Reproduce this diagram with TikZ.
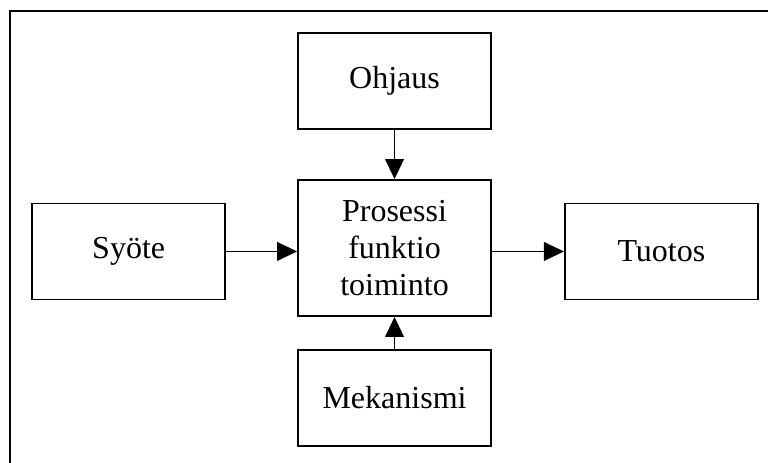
\documentclass[tikz,border=0pt]{standalone}
\usepackage{fontspec}
\setmainfont{Liberation Serif}
\usepackage{tikz}
\usetikzlibrary{positioning}
\usetikzlibrary{arrows.meta}

\begin{document}
\begin{tikzpicture}[x=1pt,y=1pt]
\tikzset{basic/.style={draw,line width=1.4pt,fill=white,inner sep=0pt,align=center,font=\fontsize{24}{28}\selectfont}}
\tikzset{side/.style={basic,minimum width=144.75pt,minimum height=72pt}}
\tikzset{process/.style={basic,minimum width=144.75pt,minimum height=102pt}}
\tikzset{flow/.style={draw,line width=1.4pt,-{Triangle[length=15pt,width=14pt]}}}
    \useasboundingbox (0,0) rectangle (576,347.25);
    % frame
    \draw[line width=2.2pt] (7.5,0) -- (7.5,339) -- (576,339);
        \node[process] (proc) at (295.9,161.25) {Prosessi\\funktio\\toiminto};
        \node[side,above=36.75pt of proc] (control) {Ohjaus};
            \path[flow] (control) -- (proc);
        \node[side,below=24pt of proc] (mech) {Mekanismi};
            \path[flow] (mech) -- (proc);
        \node[side,left=53.25pt of proc,yshift=-2.6pt] (input) {Syöte};
            \path[flow] (input) -- (input -| proc.west);
        \node[side,right=54pt of proc,yshift=-2.6pt] (output) {Tuotos};
            \path[flow] (output -| proc.east) -- (output);
\end{tikzpicture}
\end{document}
